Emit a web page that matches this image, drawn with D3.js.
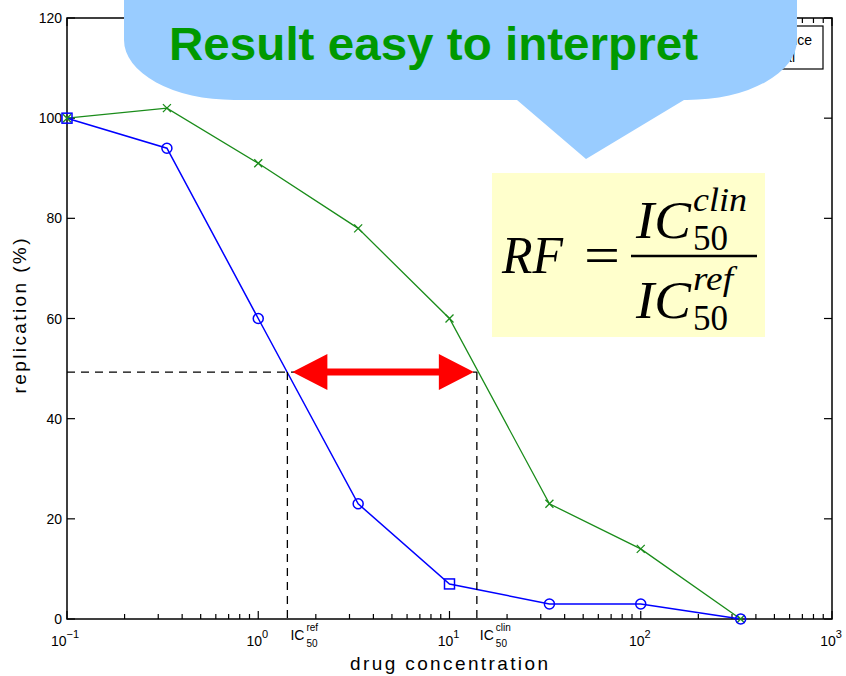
<!DOCTYPE html>
<html>
<head>
<meta charset="utf-8">
<script src="https://cdn.jsdelivr.net/npm/d3@7"></script>
<style>
  body { margin: 0; background: #fff; }
  svg { display: block; font-family: "Liberation Sans", Arial, sans-serif; }
</style>
</head>
<body>
<div id="chart"></div>
<script>
// drug concentrations (log axis)
const concentrations = [0.1, 0.333, 1, 3.33, 10, 33.3, 100, 333];
// replication (%) for the reference virus (blue) and clinical isolate (green)
const refValues = [100, 94, 60, 23, 7, 3, 3, 0];
const clinValues = [100, 102, 91, 78, 60, 23, 14, 0];
const refMarkers = ['s', 'o', 'o', 'o', 's', 'o', 'o', 'o'];
const yTicks = [0, 20, 40, 60, 80, 100, 120];
const xDecades = [-1, 0, 1, 2, 3];
// IC50 read-off
const icRef = 1.42;
const icClin = 13.9;
const icLevel = 49.3;
const legendLabels = ['reference', 'clinical'];

const width = 846, height = 676;
const svg = d3.select('#chart').append('svg')
  .attr('width', width)
  .attr('height', height);

const x = d3.scaleLog().domain([0.1, 1000]).range([67, 832]);
const y = d3.scaleLinear().domain([0, 120]).range([619, 18]);

const blue = '#0000ff';
const green = '#1a8c1a';

// frame
svg.append('rect')
  .attr('x', x(0.1)).attr('y', y(120))
  .attr('width', x(1000) - x(0.1)).attr('height', y(0) - y(120))
  .attr('fill', 'none').attr('stroke', '#000').attr('stroke-width', 1.5);

// x ticks (major + minor) on bottom and top, inward
const xTickVals = [];
xDecades.forEach(d => {
  xTickVals.push({ v: Math.pow(10, d), major: true });
  if (d < 3) for (let k = 2; k <= 9; k++) xTickVals.push({ v: k * Math.pow(10, d), major: false });
});
xTickVals.forEach(t => {
  const len = t.major ? 8 : 5;
  svg.append('line').attr('x1', x(t.v)).attr('x2', x(t.v))
    .attr('y1', y(0)).attr('y2', y(0) - len).attr('stroke', '#000').attr('stroke-width', 1.2);
  svg.append('line').attr('x1', x(t.v)).attr('x2', x(t.v))
    .attr('y1', y(120)).attr('y2', y(120) + len).attr('stroke', '#000').attr('stroke-width', 1.2);
});

// y ticks left and right
yTicks.forEach(v => {
  svg.append('line').attr('x1', x(0.1)).attr('x2', x(0.1) + 8)
    .attr('y1', y(v)).attr('y2', y(v)).attr('stroke', '#000').attr('stroke-width', 1.2);
  svg.append('line').attr('x1', x(1000)).attr('x2', x(1000) - 8)
    .attr('y1', y(v)).attr('y2', y(v)).attr('stroke', '#000').attr('stroke-width', 1.2);
  svg.append('text')
    .attr('x', 62).attr('y', y(v) + 5)
    .attr('text-anchor', 'end')
    .attr('font-size', 14)
    .text(v);
});

// x tick labels 10^n
xDecades.forEach(d => {
  const t = svg.append('text')
    .attr('x', x(Math.pow(10, d)) - (d < 0 ? 2 : 1)).attr('y', 646)
    .attr('text-anchor', 'middle')
    .attr('font-size', 14);
  t.append('tspan').text('10');
  t.append('tspan').attr('font-size', 11).attr('dy', -8).text(d < 0 ? '\u2212' + (-d) : d);
});

// axis titles
svg.append('text')
  .attr('x', 449).attr('y', 670)
  .attr('text-anchor', 'middle')
  .attr('font-size', 19)
  .attr('textLength', 198).attr('lengthAdjust', 'spacing')
  .text('drug concentration');

svg.append('text')
  .attr('transform', 'translate(26,316) rotate(-90)')
  .attr('text-anchor', 'middle')
  .attr('font-size', 19)
  .attr('textLength', 155).attr('lengthAdjust', 'spacing')
  .text('replication (%)');

// data lines
const refData = concentrations.map((c, i) => ({ c, v: refValues[i], m: refMarkers[i] }));
const clinData = concentrations.map((c, i) => ({ c, v: clinValues[i] }));
const line = d3.line().x(d => x(d.c)).y(d => y(d.v));

svg.append('path').datum(clinData)
  .attr('d', line).attr('fill', 'none')
  .attr('stroke', green).attr('stroke-width', 1.3);
svg.append('path').datum(refData)
  .attr('d', line).attr('fill', 'none')
  .attr('stroke', blue).attr('stroke-width', 1.5);

// green x markers
clinData.forEach(d => {
  const cx = x(d.c), cy = y(d.v), s = 4;
  svg.append('path')
    .attr('d', `M${cx - s},${cy - s}L${cx + s},${cy + s}M${cx - s},${cy + s}L${cx + s},${cy - s}`)
    .attr('stroke', green).attr('stroke-width', 1.3);
});

// blue markers
refData.forEach(d => {
  const cx = x(d.c), cy = y(d.v);
  if (d.m === 's') {
    svg.append('rect').attr('x', cx - 5).attr('y', cy - 5)
      .attr('width', 10).attr('height', 10)
      .attr('fill', 'none').attr('stroke', blue).attr('stroke-width', 1.5);
  } else {
    svg.append('circle').attr('cx', cx).attr('cy', cy).attr('r', 5)
      .attr('fill', 'none').attr('stroke', blue).attr('stroke-width', 1.5);
  }
});

// IC50 dashed guides
const dash = '8,6';
svg.append('line')
  .attr('x1', x(0.1)).attr('x2', x(icClin))
  .attr('y1', y(icLevel)).attr('y2', y(icLevel))
  .attr('stroke', '#000').attr('stroke-width', 1.3).attr('stroke-dasharray', dash);
[icRef, icClin].forEach(v => {
  svg.append('line')
    .attr('x1', x(v)).attr('x2', x(v))
    .attr('y1', y(icLevel)).attr('y2', y(0))
    .attr('stroke', '#000').attr('stroke-width', 1.3).attr('stroke-dasharray', dash);
});

// IC50 labels under the axis
[[icRef, 'ref'], [icClin, 'clin']].forEach(([v, sup]) => {
  const gx = x(v) + 3;
  svg.append('text').attr('x', gx).attr('y', 640).attr('font-size', 14).text('IC');
  svg.append('text').attr('x', gx + 16).attr('y', 631).attr('font-size', 10).text(sup);
  svg.append('text').attr('x', gx + 16).attr('y', 647).attr('font-size', 10).text('50');
});

// red double arrow between the two IC50s
const ay = y(icLevel);
const ax1 = x(icRef) + 5, ax2 = x(icClin) - 3;
const headL = 35, headH = 18, shaftH = 3.5;
svg.append('path')
  .attr('d', `M${ax1},${ay}L${ax1 + headL},${ay - headH}L${ax1 + headL},${ay - shaftH}` +
             `L${ax2 - headL},${ay - shaftH}L${ax2 - headL},${ay - headH}L${ax2},${ay}` +
             `L${ax2 - headL},${ay + headH}L${ax2 - headL},${ay + shaftH}` +
             `L${ax1 + headL},${ay + shaftH}L${ax1 + headL},${ay + headH}Z`)
  .attr('fill', '#ff0000');

// formula box
const fb = svg.append('g').attr('font-family', '"Liberation Serif", "Times New Roman", serif');
fb.append('rect').attr('x', 492).attr('y', 173).attr('width', 273).attr('height', 164)
  .attr('fill', '#ffffcc');
fb.append('text').attr('x', 502).attr('y', 273).attr('font-size', 52).attr('font-style', 'italic')
  .attr('textLength', 61).attr('lengthAdjust', 'spacingAndGlyphs').text('RF');
fb.append('text').attr('x', 584).attr('y', 273).attr('font-size', 52)
  .attr('textLength', 36).attr('lengthAdjust', 'spacingAndGlyphs').text('=');
fb.append('line').attr('x1', 631).attr('x2', 757).attr('y1', 256).attr('y2', 256)
  .attr('stroke', '#000').attr('stroke-width', 2.5);
fb.append('text').attr('x', 636).attr('y', 238).attr('font-size', 52).attr('font-style', 'italic')
  .attr('textLength', 55).attr('lengthAdjust', 'spacingAndGlyphs').text('IC');
fb.append('text').attr('x', 693).attr('y', 211).attr('font-size', 34).attr('font-style', 'italic')
  .attr('textLength', 54).attr('lengthAdjust', 'spacingAndGlyphs').text('clin');
fb.append('text').attr('x', 693).attr('y', 250).attr('font-size', 36)
  .attr('textLength', 35).attr('lengthAdjust', 'spacingAndGlyphs').text('50');
fb.append('text').attr('x', 636).attr('y', 318).attr('font-size', 52).attr('font-style', 'italic')
  .attr('textLength', 55).attr('lengthAdjust', 'spacingAndGlyphs').text('IC');
fb.append('text').attr('x', 693).attr('y', 290).attr('font-size', 34).attr('font-style', 'italic')
  .attr('textLength', 40).attr('lengthAdjust', 'spacingAndGlyphs').text('ref');
fb.append('text').attr('x', 693).attr('y', 330).attr('font-size', 36)
  .attr('textLength', 35).attr('lengthAdjust', 'spacingAndGlyphs').text('50');

// legend (mostly hidden behind the callout)
svg.append('rect').attr('x', 700).attr('y', 26).attr('width', 123).attr('height', 43)
  .attr('fill', '#fff').attr('stroke', '#000').attr('stroke-width', 1.2);
legendLabels.forEach((t, i) => {
  svg.append('line').attr('x1', 712).attr('x2', 745)
    .attr('y1', 40 + i * 17).attr('y2', 40 + i * 17)
    .attr('stroke', i === 0 ? blue : green);
  svg.append('text').attr('x', 753).attr('y', 45 + i * 17).attr('font-size', 14).text(t);
});

// callout bubble
svg.append('path')
  .attr('d', 'M124,-60L124,40A110,60 0 0 0 234,100L517,100L586,159L684,100L687,100' +
             'A110,60 0 0 0 797,40L797,-60Z')
  .attr('fill', '#99ccff');
svg.append('text')
  .attr('x', 169).attr('y', 60)
  .attr('font-size', 47).attr('font-weight', 'bold')
  .attr('fill', '#009900')
  .attr('textLength', 529).attr('lengthAdjust', 'spacingAndGlyphs')
  .text('Result easy to interpret');
</script>
</body>
</html>
